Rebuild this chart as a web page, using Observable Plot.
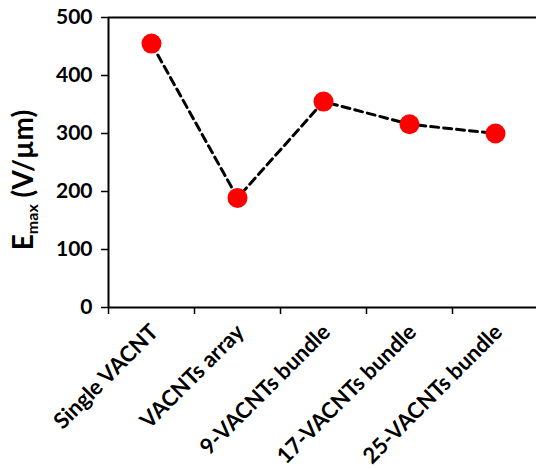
<!DOCTYPE html>
<html>
<head>
<meta charset="utf-8">
<script src="https://cdn.jsdelivr.net/npm/d3@7"></script>
<script src="https://cdn.jsdelivr.net/npm/@observablehq/plot@0.6"></script>
<style>
  html, body { margin: 0; padding: 0; background: #fff; overflow: hidden; }
  #chart svg { display: block; }
</style>
</head>
<body>
<div id="chart"></div>
<script>
const categories = ["Single VACNT", "VACNTs array", "9-VACNTs bundle", "17-VACNTs bundle", "25-VACNTs bundle"];
const emax = [455, 189, 355, 316, 300];
const yTicks = [0, 100, 200, 300, 400, 500];
const xBoundaries = [0, 1, 2, 3, 4, 5];

const data = categories.map((c, i) => ({cat: c, pos: i + 0.5, v: emax[i]}));

const plot = Plot.plot({
  width: 536,
  height: 469,
  marginTop: 17,
  marginBottom: 162,
  marginLeft: 108,
  marginRight: 0,
  style: {fontFamily: "Lato, sans-serif", fontWeight: "bold", color: "black", background: "white"},
  x: {domain: [0, 5], range: [108, 538]},
  y: {domain: [0, 500]},
  marks: [
    Plot.axisY({ticks: yTicks, tickSize: 7, tickPadding: 9, fontSize: 21, fontWeight: "bold", stroke: "black", strokeWidth: 1.5, label: null}),
    Plot.axisX({ticks: xBoundaries, tickSize: 7, tickFormat: () => "", stroke: "black", strokeWidth: 1.5, label: null}),
    Plot.ruleY([0, 500], {stroke: "black", strokeWidth: 2}),
    Plot.ruleX([0], {stroke: "black", strokeWidth: 2}),
    Plot.line(data, {x: "pos", y: "v", stroke: "black", strokeWidth: 3, strokeDasharray: "8,5"}),
    Plot.dot(data, {x: "pos", y: "v", r: 10, fill: "#ff0000", stroke: "none"}),
    Plot.text(data, {x: "pos", frameAnchor: "bottom", text: "cat", rotate: -45, textAnchor: "end", lineAnchor: "bottom", dx: 8, dy: 26, fontSize: 22, fontWeight: "bold", fill: "black"})
  ]
});

document.getElementById("chart").appendChild(plot);

// y-axis title with subscript
const svg = d3.select(plot);
const t = svg.append("text")
  .attr("transform", "translate(33,180) rotate(-90)")
  .attr("text-anchor", "middle")
  .attr("font-family", "Lato, sans-serif")
  .attr("font-weight", "bold")
  .attr("font-size", 28)
  .attr("fill", "black");
t.append("tspan").text("E");
t.append("tspan").attr("font-size", 16).attr("dy", 5).text("max");
t.append("tspan").attr("dy", -5).text(" (V/µm)");
</script>
</body>
</html>
